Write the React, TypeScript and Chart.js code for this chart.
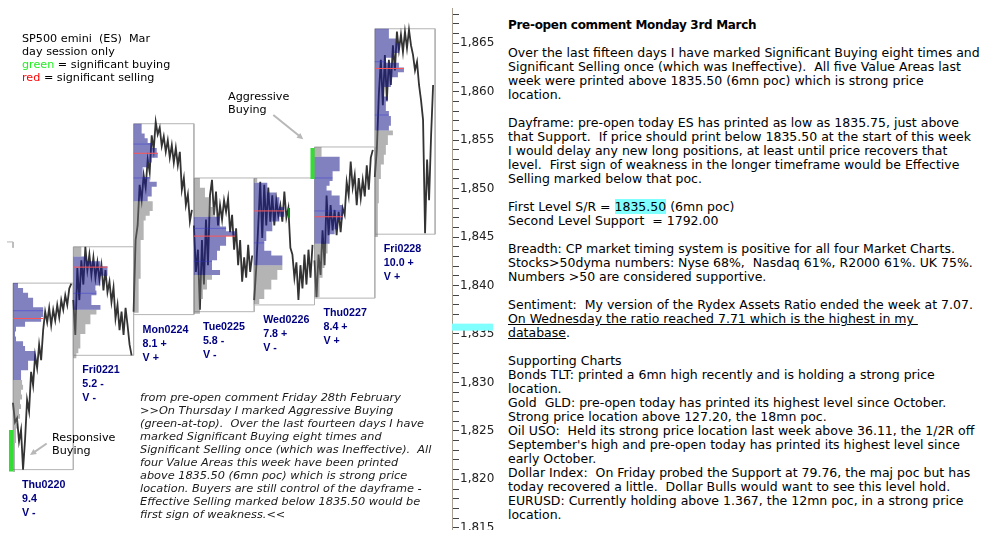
import React, { useEffect, useRef } from 'react';
import { Chart, registerables } from 'chart.js';

Chart.register(...registerables);

// ---------- data ----------
const STEP = 0.5; // price per profile row
const UNIT = 1 / 60; // session fraction per profile unit

const dayNames = ['Thu0220', 'Fri0221', 'Mon0224', 'Tue0225', 'Wed0226', 'Thu0227', 'Fri0228'];
const dayRatings = ['9.4', '5.2 -', '8.1 +', '5.8 -', '7.8 +', '8.4 +', '10.0 +'];
const dayValueNotes = ['V -', 'V -', 'V +', 'V -', 'V -', 'V +', 'V +'];
const dayHigh = [1840.25, 1844.0, 1856.7, 1851.1, 1851.1, 1854.3, 1866.5];
const dayLow = [1821.0, 1832.8, 1837.0, 1837.3, 1838.0, 1838.7, 1845.3];
const dayPoc = [1836.6, 1841.9, 1853.65, 1845.1, 1847.7, 1847.1, 1862.4];
const dayVaHigh = [1840.25, 1843.0, 1856.7, 1847.1, 1850.6, 1853.3, 1866.5];
const dayVaLow = [1830.25, 1837.5, 1848.7, 1841.1, 1842.1, 1844.3, 1856.0];
const priorSessionHigh = 1844.5;

const thu0220Profile = [5, 10, 15, 20, 20, 30, 30, 28, 12, 3, 2, 3, 10, 12, 22, 22, 15, 15, 8, 8, 9, 10, 8, 9, 7, 8, 6, 7, 5, 4, 3, 3, 3, 2, 2, 2, 2, 2, 2];
const fri0221Profile = [8, 8, 13, 27, 34, 34, 27, 27, 22, 23, 18, 18, 27, 23, 17, 17, 12, 12, 7, 7, 7, 5, 3];
const mon0224Profile = [8, 8, 11, 14, 18, 23, 24, 18, 14, 9, 9, 16, 23, 18, 18, 14, 19, 19, 16, 12, 10, 10, 10, 10, 7, 7, 7, 7, 7, 7, 7, 7, 5, 5, 5, 5, 5, 5, 5];
const tue0225Profile = [6, 6, 11, 11, 16, 16, 21, 21, 26, 26, 32, 41, 32, 32, 26, 23, 23, 18, 18, 26, 18, 13, 13, 9, 9, 6, 6, 6];
const wed0226Profile = [3, 13, 13, 22, 25, 25, 30, 30, 25, 18, 18, 12, 12, 10, 10, 17, 28, 28, 28, 23, 23, 17, 17, 10, 10, 5];
const thu0227Profile = [7, 7, 25, 25, 25, 18, 18, 15, 12, 17, 25, 25, 28, 28, 28, 23, 23, 20, 15, 15, 13, 13, 10, 10, 10, 8, 8, 5, 5, 5, 5];
const fri0228Profile = [14, 14, 21, 24, 24, 18, 11, 24, 29, 23, 16, 16, 9, 9, 13, 11, 11, 14, 16, 16, 14, 18, 13, 13, 11, 11, 9, 9, 6, 6, 6, 4, 4, 4, 4, 4, 3, 3, 3, 3, 3, 3, 3];

const thu0220Prices = [1827.9, 1825.9, 1826.3, 1823.9, 1825.1, 1821.0, 1824.1, 1828.2, 1827.0, 1831.1, 1829.7, 1832.8, 1831.5, 1833.9, 1832.3, 1835.4, 1837.3, 1836.2, 1837.7, 1835.9, 1837.5, 1836.4, 1838.0, 1836.7, 1838.5, 1837.5, 1839.0, 1838.0, 1839.7, 1840.2];
const fri0221Prices = [1838.5, 1834.9, 1841.8, 1838.5, 1842.6, 1840.1, 1844.0, 1841.6, 1843.2, 1841.1, 1842.9, 1840.8, 1842.4, 1840.6, 1842.1, 1839.5, 1841.6, 1839.3, 1840.4, 1838.3, 1839.8, 1836.6, 1838.0, 1835.4, 1837.3, 1834.9, 1837.7, 1835.9, 1833.9, 1832.8];
const mon0224Prices = [1837.3, 1844.7, 1846.2, 1850.4, 1848.8, 1851.4, 1850.1, 1853.0, 1851.7, 1855.5, 1854.0, 1856.9, 1855.6, 1856.3, 1854.4, 1855.4, 1853.8, 1855.0, 1853.2, 1854.5, 1852.7, 1854.2, 1852.4, 1853.8, 1849.9, 1851.1, 1848.3, 1849.4, 1846.6, 1847.8];
const tue0225Prices = [1846.2, 1841.4, 1843.7, 1837.5, 1844.7, 1840.1, 1846.8, 1842.1, 1849.3, 1850.9, 1847.3, 1849.7, 1846.2, 1848.3, 1846.8, 1848.8, 1847.6, 1849.0, 1845.5, 1847.3, 1843.7, 1845.9, 1842.1, 1844.7, 1840.4, 1842.9, 1840.8, 1844.2, 1841.4, 1843.1];
const wed0226Prices = [1838.5, 1841.8, 1846.2, 1850.7, 1844.9, 1850.4, 1846.2, 1850.1, 1846.6, 1849.3, 1846.2, 1848.8, 1847.2, 1848.3, 1846.6, 1849.7, 1847.0, 1848.0, 1843.9, 1843.2, 1840.8, 1842.4, 1838.5, 1842.1, 1839.7, 1843.2, 1840.1, 1843.7, 1840.8, 1844.2];
const thu0227Prices = [1842.6, 1838.8, 1843.2, 1841.1, 1845.7, 1842.1, 1849.3, 1845.2, 1848.3, 1845.7, 1847.8, 1845.2, 1847.6, 1845.5, 1848.0, 1847.3, 1850.7, 1849.3, 1852.8, 1850.1, 1851.4, 1848.3, 1851.1, 1849.0, 1850.9, 1849.2, 1852.4, 1849.9, 1853.2, 1854.0];
const fri0228Prices = [1851.2, 1854.0, 1859.7, 1863.3, 1858.6, 1863.8, 1859.1, 1863.3, 1860.7, 1864.8, 1862.2, 1866.2, 1864.3, 1865.9, 1864.1, 1866.2, 1864.5, 1866.4, 1864.8, 1863.8, 1862.2, 1863.1, 1860.7, 1859.1, 1857.1, 1845.4, 1853.0, 1848.8, 1855.5, 1860.7];

const ibDay = [0, 1, 2, 2, 3, 3, 4, 5, 5, 6, 6];
const ibPrice = [1837.4, 1839.2, 1854.6, 1851.1, 1845.9, 1842.5, 1844.4, 1851.1, 1847.7, 1863.1, 1857.6];

const sigBuyDay = [0, 5];
const sigBuyHigh = [1825.1, 1854.2];
const sigBuyLow = [1820.8, 1851.0];
const minorBuyTime = [4.56];
const minorBuyHigh = [1848.0];
const minorBuyLow = [1847.0];

const arrowFromX = [4.317, 0.559];
const arrowFromY = [1857.6, 1823.7];
const arrowToX = [4.814, 0.282];
const arrowToY = [1855.1, 1822.5];

const srLevel = 1835.5;
const yTickValues: number[] = [];
for (let v = 1815; v <= 1868; v++) yTickValues.push(v);

const profiles = [thu0220Profile, fri0221Profile, mon0224Profile, tue0225Profile, wed0226Profile, thu0227Profile, fri0228Profile];
const prices = [thu0220Prices, fri0221Prices, mon0224Prices, tue0225Prices, wed0226Prices, thu0227Prices, fri0228Prices];

const X_MIN = -0.2156;
const X_MAX = 7.28;
const Y_MAX = 1868.643;
const Y_MIN = 1814.77;

const FONT = "'DejaVu Sans', Verdana, sans-serif";

function profileShape(day: number, widths: number[], high: number, a: number, b: number) {
  const pts: { x: number; y: number }[] = [{ x: day, y: high - a * STEP }];
  for (let k = a; k <= b; k++) {
    const x = day + widths[k] * UNIT;
    pts.push({ x, y: high - k * STEP });
    pts.push({ x, y: high - (k + 1) * STEP });
  }
  pts.push({ x: day, y: high - (b + 1) * STEP });
  return pts;
}

function rectShape(x0: number, x1: number, hi: number, lo: number) {
  return [
    { x: x0, y: hi },
    { x: x1, y: hi },
    { x: x1, y: lo },
    { x: x0, y: lo },
  ];
}

function buildDatasets() {
  const ds: any[] = [];
  const base = { type: 'line', pointRadius: 0, tension: 0, fill: false };
  const shapeBase = { ...base, fill: 'shape', borderWidth: 0, borderColor: 'rgba(0,0,0,0)' };

  // prior session box corner
  ds.push({ ...base, data: [{ x: -0.1, y: priorSessionHigh }, { x: 0, y: priorSessionHigh }, { x: 0, y: priorSessionHigh - 0.6 }], borderColor: '#b4b4b4', borderWidth: 1, order: 7 });

  dayNames.forEach((_, d) => {
    const hi = dayHigh[d];
    const lo = dayLow[d];
    // session range box
    ds.push({ ...base, data: [...rectShape(d, d + 1, hi, lo), { x: d, y: hi }], borderColor: '#b4b4b4', borderWidth: 1, order: 7 });
    // price line
    const p = prices[d];
    ds.push({ ...base, data: p.map((v, k) => ({ x: d + k / p.length, y: v })), borderColor: '#333333', borderWidth: 1.8, order: 6 });
    // profile
    const w = profiles[d];
    const vaStart = Math.round((hi - dayVaHigh[d]) / STEP);
    const vaEnd = Math.round((hi - dayVaLow[d]) / STEP) - 1;
    const grey = 'rgba(105,105,105,0.5)';
    const blue = 'rgba(25,25,140,0.55)';
    if (vaStart > 0) ds.push({ ...shapeBase, data: profileShape(d, w, hi, 0, vaStart - 1), backgroundColor: grey, order: 5 });
    ds.push({ ...shapeBase, data: profileShape(d, w, hi, vaStart, vaEnd), backgroundColor: blue, order: 5 });
    if (vaEnd < w.length - 1) ds.push({ ...shapeBase, data: profileShape(d, w, hi, vaEnd + 1, w.length - 1), backgroundColor: grey, order: 5 });
    // POC
    const maxW = Math.max(...w);
    ds.push({ ...base, data: [{ x: d, y: dayPoc[d] }, { x: d + maxW * UNIT, y: dayPoc[d] }], borderColor: '#ff5555', borderWidth: 1, order: 3 });
  });

  // IB lines
  ibDay.forEach((d, i) => {
    const k = Math.floor((dayHigh[d] - ibPrice[i]) / STEP);
    const w = profiles[d][Math.max(0, Math.min(k, profiles[d].length - 1))];
    ds.push({ ...base, data: [{ x: d, y: ibPrice[i] }, { x: d + w * UNIT, y: ibPrice[i] }], borderColor: 'rgba(50,50,210,0.45)', borderWidth: 1, order: 4 });
  });

  // significant buying bars
  sigBuyDay.forEach((d, i) => {
    ds.push({ ...shapeBase, data: rectShape(d - 4 * UNIT, d, sigBuyHigh[i], sigBuyLow[i]), backgroundColor: '#33dd33', order: 1 });
  });
  minorBuyTime.forEach((t, i) => {
    ds.push({ ...shapeBase, data: rectShape(t, t + 2 * UNIT, minorBuyHigh[i], minorBuyLow[i]), backgroundColor: '#11881a', order: 1 });
  });
  return ds;
}

const overlayPlugin = {
  id: 'overlay',
  afterDatasetsDraw(chart: any) {
    const { ctx } = chart;
    const xs = chart.scales.x;
    const ys = chart.scales.y;
    ctx.save();
    // annotation arrows
    ctx.strokeStyle = '#b8b8b8';
    ctx.fillStyle = '#b8b8b8';
    ctx.lineWidth = 2;
    arrowFromX.forEach((_, i) => {
      const x0 = xs.getPixelForValue(arrowFromX[i]);
      const y0 = ys.getPixelForValue(arrowFromY[i]);
      const x1 = xs.getPixelForValue(arrowToX[i]);
      const y1 = ys.getPixelForValue(arrowToY[i]);
      const ang = Math.atan2(y1 - y0, x1 - x0);
      const hl = 7;
      ctx.beginPath();
      ctx.moveTo(x0, y0);
      ctx.lineTo(x1 - Math.cos(ang) * 3, y1 - Math.sin(ang) * 3);
      ctx.stroke();
      ctx.beginPath();
      ctx.moveTo(x1, y1);
      ctx.lineTo(x1 - hl * Math.cos(ang - 0.45), y1 - hl * Math.sin(ang - 0.45));
      ctx.lineTo(x1 - hl * Math.cos(ang + 0.45), y1 - hl * Math.sin(ang + 0.45));
      ctx.closePath();
      ctx.fill();
    });
    // day labels
    ctx.font = 'bold 10.7px "Liberation Sans", Arial, sans-serif';
    ctx.fillStyle = '#000080';
    ctx.textAlign = 'left';
    ctx.textBaseline = 'middle';
    dayNames.forEach((n, d) => {
      const px = xs.getPixelForValue(d) + 9;
      const py = ys.getPixelForValue(dayLow[d]) + 15;
      ctx.fillText(n, px, py);
      ctx.fillText(dayRatings[d], px, py + 14);
      ctx.fillText(dayValueNotes[d], px, py + 28);
    });
    ctx.restore();
  },
  afterDraw(chart: any) {
    const { ctx, chartArea } = chart;
    const ys = chart.scales.y;
    const py = ys.getPixelForValue(srLevel);
    ctx.save();
    ctx.fillStyle = '#80ffff';
    ctx.fillRect(chartArea.right, py - 5.5, 41, 7);
    ctx.restore();
  },
};

export default function App() {
  const ref = useRef<HTMLCanvasElement>(null);
  useEffect(() => {
    document.body.style.margin = '0';
    document.body.style.background = '#fff';
    const chart = new Chart(ref.current as HTMLCanvasElement, {
      type: 'line',
      data: { datasets: buildDatasets() },
      options: {
        animation: false,
        responsive: false,
        maintainAspectRatio: false,
        devicePixelRatio: 1,
        events: [],
        layout: { padding: { top: 8, left: 0, right: 0, bottom: 0 } },
        plugins: { legend: { display: false }, tooltip: { enabled: false } },
        scales: {
          x: { type: 'linear', display: false, min: X_MIN, max: X_MAX },
          y: {
            type: 'linear',
            position: 'right',
            min: Y_MIN,
            max: Y_MAX,
            afterBuildTicks: (s: any) => {
              s.ticks = yTickValues.map((v) => ({ value: v }));
            },
            afterFit: (s: any) => {
              s.width = 48;
              s.paddingTop = 0;
              s.paddingBottom = 0;
            },
            ticks: {
              autoSkip: false,
              padding: 1,
              color: '#222',
              font: { family: 'DejaVu Sans', size: 12 },
              callback: (v: any) => (Math.round(v) % 5 === 0 ? Number(v).toLocaleString('en-US') : ''),
            },
            grid: { drawOnChartArea: false, drawTicks: true, tickLength: 7, color: '#444' },
            border: { display: true, color: '#a8a090' },
          },
        },
      } as any,
      plugins: [overlayPlugin as any],
    } as any);
    return () => chart.destroy();
  }, []);

  const abs = (left: number, top: number, font: string, lh: number, extra: React.CSSProperties = {}): React.CSSProperties => ({
    position: 'absolute',
    left,
    top,
    font,
    lineHeight: `${lh}px`,
    whiteSpace: 'pre',
    color: '#000',
    ...extra,
  });
  const nb = '\u00a0';

  return (
    <div style={{ position: 'relative', width: 992, height: 541, overflow: 'hidden', background: '#fff' }}>
      <canvas ref={ref} width={500} height={530} style={{ position: 'absolute', left: 0, top: 0 }} />

      <div style={abs(22, 31.5, `11.2px ${FONT}`, 13)}>
        <div>SP500 emini  (ES)  Mar</div>
        <div>day session only</div>
        <div><span style={{ color: '#22ee22' }}>green</span> = significant buying</div>
        <div><span style={{ color: '#ff0000' }}>red</span> = significant selling</div>
      </div>

      <div style={abs(228, 89.5, `11.2px ${FONT}`, 13)}>
        <div>Aggressive</div>
        <div>Buying</div>
      </div>

      <div style={abs(52, 430.5, `11.2px ${FONT}`, 13)}>
        <div>Responsive</div>
        <div>Buying</div>
      </div>

      <div style={abs(140, 390.5, `italic 11.3px ${FONT}`, 13, { color: '#1a1a1a' })}>
        <div>from pre-open comment Friday 28th February</div>
        <div>{'>>On Thursday I marked Aggressive Buying'}</div>
        <div>(green-at-top).  Over the last fourteen days I have</div>
        <div>marked Significant Buying eight times and</div>
        <div>Significant Selling once (which was Ineffective).  All</div>
        <div>four Value Areas this week have been printed</div>
        <div>above 1835.50 (6mn poc) which is strong price</div>
        <div>location. Buyers are still control of the dayframe -</div>
        <div>Effective Selling marked below 1835.50 would be</div>
        <div>{'first sign of weakness.<<'}</div>
      </div>

      <div style={abs(508, 18, `12.5px ${FONT}`, 14)}>
        <div style={{ fontWeight: 'bold', fontSize: 12, letterSpacing: -0.3 }}>Pre-open comment Monday 3rd March</div>
        <div>{nb}</div>
        <div>Over the last fifteen days I have marked Significant Buying eight times and</div>
        <div>Significant Selling once (which was Ineffective).  All five Value Areas last</div>
        <div>week were printed above 1835.50 (6mn poc) which is strong price</div>
        <div>location.</div>
        <div>{nb}</div>
        <div>Dayframe: pre-open today ES has printed as low as 1835.75, just above</div>
        <div>that Support.  If price should print below 1835.50 at the start of this week</div>
        <div>I would delay any new long positions, at least until price recovers that</div>
        <div>level.  First sign of weakness in the longer timeframe would be Effective</div>
        <div>Selling marked below that poc.</div>
        <div>{nb}</div>
        <div>First Level S/R = <span style={{ background: '#80ffff' }}>1835.50</span> (6mn poc)</div>
        <div>Second Level Support  = 1792.00</div>
        <div>{nb}</div>
        <div>Breadth: CP market timing system is positive for all four Market Charts.</div>
        <div>Stocks{'>'}50dyma numbers: Nyse 68%,  Nasdaq 61%, R2000 61%. UK 75%.</div>
        <div>Numbers {'>'}50 are considered supportive.</div>
        <div>{nb}</div>
        <div>Sentiment:  My version of the Rydex Assets Ratio ended the week at 7.07.</div>
        <div><span style={{ textDecoration: 'underline' }}>On Wednesday the ratio reached 7.71 which is the highest in my </span></div>
        <div><span style={{ textDecoration: 'underline' }}>database</span>.</div>
        <div>{nb}</div>
        <div>Supporting Charts</div>
        <div>Bonds TLT: printed a 6mn high recently and is holding a strong price</div>
        <div>location.</div>
        <div>Gold  GLD: pre-open today has printed its highest level since October.</div>
        <div>Strong price location above 127.20, the 18mn poc.</div>
        <div>Oil USO:  Held its strong price location last week above 36.11, the 1/2R off</div>
        <div>September's high and pre-open today has printed its highest level since</div>
        <div>early October.</div>
        <div>Dollar Index:  On Friday probed the Support at 79.76, the maj poc but has</div>
        <div>today recovered a little.  Dollar Bulls would want to see this level hold.</div>
        <div>EURUSD: Currently holding above 1.367, the 12mn poc, in a strong price</div>
        <div>location.</div>
      </div>
    </div>
  );
}
